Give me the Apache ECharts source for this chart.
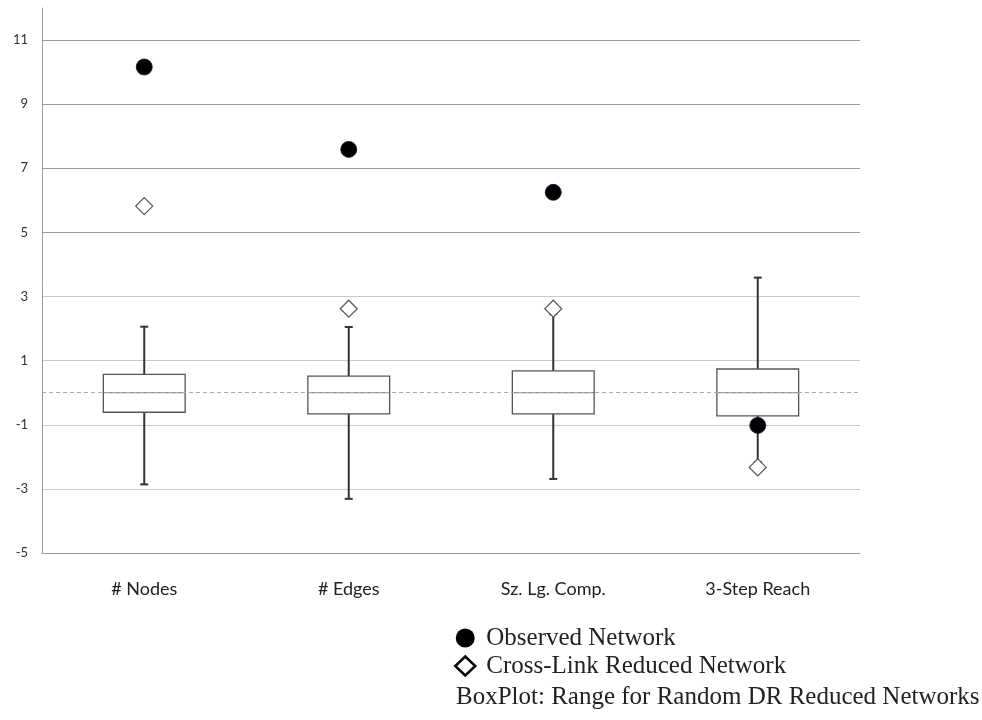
<!DOCTYPE html>
<html>
<head>
<meta charset="utf-8">
<script src="https://cdn.jsdelivr.net/npm/echarts@6/dist/echarts.min.js"></script>
<style>
html,body{margin:0;padding:0;background:#fff;}
#chart{width:982px;height:720px;}
</style>
</head>
<body>
<div id="chart"></div>
<script>
const categories = ['# Nodes', '# Edges', 'Sz. Lg. Comp.', '3-Step Reach'];
const boxLow = [-2.86, -3.31, -2.69, -2.16];
const boxQ1 = [-0.61, -0.66, -0.66, -0.72];
const boxMedian = [0, 0, 0, 0];
const boxQ3 = [0.57, 0.52, 0.68, 0.74];
const boxHigh = [2.06, 2.05, 2.45, 3.59];
const observed = [10.16, 7.59, 6.25, -1.02];
const crossLink = [5.82, 2.62, 2.62, -2.33];
const yMin = -5, yMax = 12, yInterval = 2;
const legendNames = ['Observed Network', 'Cross-Link Reduced Network'];
const boxNote = 'BoxPlot: Range for Random DR Reduced Networks';

const boxData = categories.map((c, i) => [i, boxLow[i], boxQ1[i], boxMedian[i], boxQ3[i], boxHigh[i]]);

const gridColors = ['#bbbbbb','#c8c8c8','#c8c8c8','#c8c8c8','#c8c8c8','#9a9a9a','#9a9a9a','#9a9a9a','#9a9a9a','rgba(0,0,0,0)'];

const chart = echarts.init(document.getElementById('chart'));
chart.setOption({
  animation: false,
  grid: { left: 42, right: 122, top: 8, bottom: 167 },
  xAxis: {
    type: 'category',
    data: categories,
    axisLine: { show: true, onZero: false, lineStyle: { color: '#9a9a9a', width: 1 } },
    axisTick: { show: false },
    axisLabel: { color: '#222', fontFamily: 'Lato', fontSize: 18, margin: 27 },
    splitLine: { show: false }
  },
  yAxis: {
    type: 'value',
    min: yMin, max: yMax, interval: yInterval,
    axisLine: { show: true, lineStyle: { color: '#9a9a9a', width: 1 } },
    axisTick: { show: false },
    axisLabel: {
      color: '#333', fontFamily: 'Lato', fontSize: 13, margin: 14,
      showMaxLabel: false,
      formatter: v => (v === yMax ? '' : String(v))
    },
    splitLine: { show: true, lineStyle: { color: gridColors, width: 1.2 } }
  },
  legend: {
    orient: 'vertical',
    left: 454, top: 624,
    padding: 0,
    itemWidth: 20, itemHeight: 19, itemGap: 0,
    textStyle: { fontFamily: 'Liberation Serif', fontSize: 25, lineHeight: 28, color: '#222', padding: [0,0,0,6] },
    data: [
      { name: legendNames[0], icon: 'circle', itemStyle: { color: '#000', borderColor: '#000', borderWidth: 0, opacity: 1 } },
      { name: legendNames[1], icon: 'diamond', itemStyle: { color: '#fff', borderColor: '#000', borderWidth: 2.5, opacity: 1 } }
    ]
  },
  graphic: [{
    type: 'text', x: 456, y: 697,
    style: { text: boxNote, font: '25px "Liberation Serif"', fill: '#222', verticalAlign: 'middle' }
  }],
  series: [
    {
      type: 'custom',
      name: 'box',
      data: boxData,
      z: 3,
      renderItem: function (params, api) {
        const idx = api.value(0);
        const pLow = api.coord([idx, api.value(1)]);
        const pQ1 = api.coord([idx, api.value(2)]);
        const pMed = api.coord([idx, api.value(3)]);
        const pQ3 = api.coord([idx, api.value(4)]);
        const pHigh = api.coord([idx, api.value(5)]);
        const bw = api.size([1, 0])[0] * 0.4;
        const x = pQ1[0];
        const cap = 4;
        const wStyle = { stroke: '#333', lineWidth: 2 };
        return {
          type: 'group',
          children: [
            { type: 'line', shape: { x1: x, y1: pQ3[1], x2: x, y2: pHigh[1] }, style: wStyle },
            { type: 'line', shape: { x1: x, y1: pQ1[1], x2: x, y2: pLow[1] }, style: wStyle },
            { type: 'line', shape: { x1: x - cap, y1: pHigh[1], x2: x + cap, y2: pHigh[1] }, style: wStyle },
            { type: 'line', shape: { x1: x - cap, y1: pLow[1], x2: x + cap, y2: pLow[1] }, style: wStyle },
            { type: 'rect', shape: { x: x - bw / 2, y: pQ3[1], width: bw, height: pQ1[1] - pQ3[1] },
              style: { fill: '#fff', stroke: '#555', lineWidth: 1.3 } },
            { type: 'line', shape: { x1: x - bw / 2, y1: pMed[1], x2: x + bw / 2, y2: pMed[1] },
              style: { stroke: '#777', lineWidth: 1 } }
          ]
        };
      },
      markLine: {
        silent: true, symbol: 'none', z: 4,
        label: { show: false },
        lineStyle: { color: '#aaa', type: [4, 3], width: 1 },
        data: [{ yAxis: 0 }]
      }
    },
    {
      type: 'scatter',
      name: legendNames[1],
      data: crossLink,
      symbol: 'diamond',
      symbolSize: [17, 17],
      z: 5,
      itemStyle: { color: '#fff', borderColor: '#555', borderWidth: 1.2, opacity: 1 }
    },
    {
      type: 'scatter',
      name: legendNames[0],
      data: observed,
      symbol: 'circle',
      symbolSize: 16,
      z: 6,
      itemStyle: { color: '#000', borderColor: '#1a0f2e', borderWidth: 0.8, opacity: 1 }
    }
  ]
});
</script>
</body>
</html>
